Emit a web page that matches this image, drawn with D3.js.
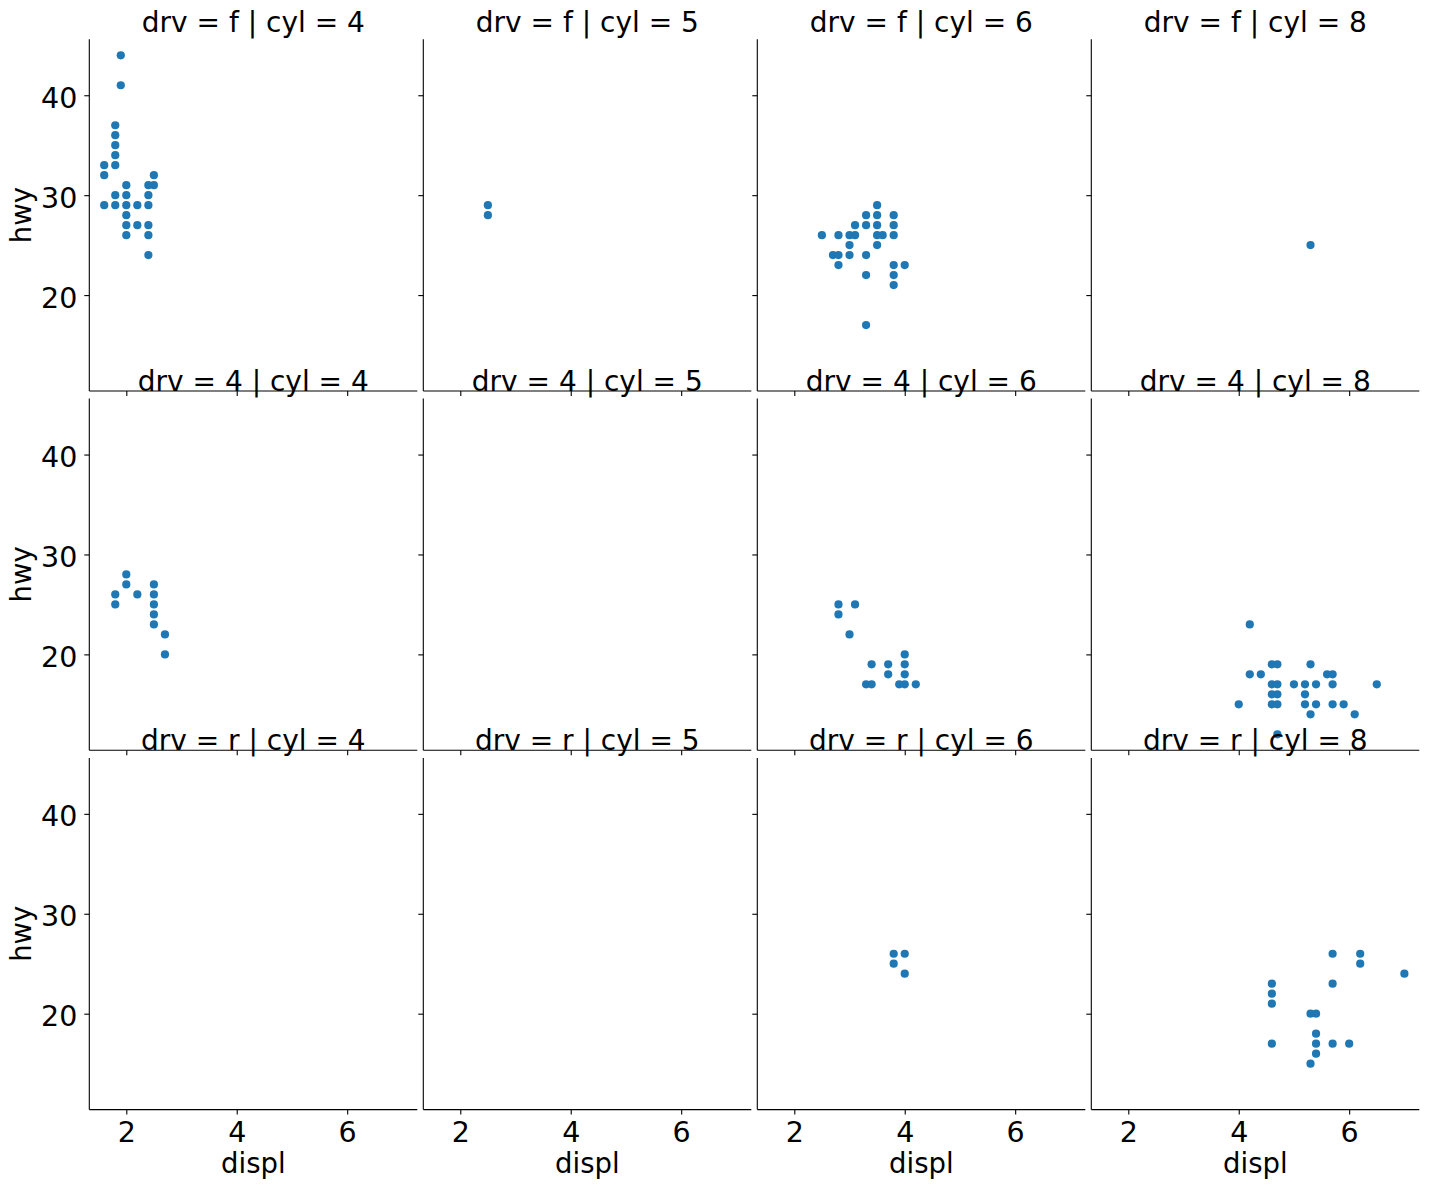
<!DOCTYPE html>
<html>
<head>
<meta charset="utf-8">
<script src="https://cdn.jsdelivr.net/npm/d3@7"></script>
<style>
  body { margin: 0; background: #fff; }
  text { font-family: "DejaVu Sans", sans-serif; fill: #000; }
</style>
</head>
<body>
<div id="chart"></div>
<script>
// Facet levels
const drvLevels = ["f", "4", "r"];
const cylLevels = [4, 5, 6, 8];

// [displ, hwy] per facet
const f4 = [[1.9,44],[1.9,41],[1.8,37],[1.8,36],[1.8,35],[1.8,34],[1.8,33],[1.6,33],[1.6,32],
  [2.5,32],[2.5,31],[2.4,31],[2.0,31],[1.8,30],[2.0,30],[2.4,30],[1.6,29],[1.8,29],[2.0,29],
  [2.2,29],[2.4,29],[2.0,28],[2.0,27],[2.2,27],[2.4,27],[2.0,26],[2.4,26],[2.4,24]];
const f5 = [[2.5,29],[2.5,28]];
const f6 = [[3.5,29],[3.3,28],[3.5,28],[3.8,28],[3.1,27],[3.3,27],[3.5,27],[3.8,27],[2.5,26],
  [2.8,26],[3.0,26],[3.1,26],[3.5,26],[3.6,26],[3.8,26],[3.0,25],[3.5,25],[2.7,24],[2.8,24],
  [3.0,24],[3.3,24],[2.8,23],[3.8,23],[4.0,23],[3.3,22],[3.8,22],[3.8,21],[3.3,17]];
const f8 = [[5.3,25]];
const w4 = [[2.0,28],[2.0,27],[1.8,26],[1.8,25],[2.2,26],[2.5,27],[2.5,26],[2.5,25],[2.5,24],
  [2.5,23],[2.7,22],[2.7,20]];
const w5 = [];
const w6 = [[2.8,25],[3.1,25],[2.8,24],[3.0,22],[4.0,20],[3.4,19],[3.7,19],[4.0,19],[3.7,18],
  [4.0,18],[3.3,17],[3.4,17],[3.9,17],[4.0,17],[4.2,17]];
const w8 = [[4.2,23],[4.6,19],[4.7,19],[5.3,19],[4.2,18],[4.4,18],[5.6,18],[5.7,18],[4.6,17],
  [4.7,17],[5.0,17],[5.2,17],[5.4,17],[5.7,17],[6.5,17],[4.6,16],[4.7,16],[5.2,16],[4.0,15],
  [4.6,15],[4.7,15],[5.2,15],[5.4,15],[5.7,15],[5.9,15],[5.3,14],[6.1,14],[4.7,12]];
const r4 = [];
const r5 = [];
const r6 = [[3.8,26],[4.0,26],[3.8,25],[4.0,24]];
const r8 = [[5.7,26],[6.2,26],[6.2,25],[7.0,24],[4.6,23],[5.7,23],[4.6,22],[4.6,21],[5.3,20],
  [5.4,20],[5.4,18],[4.6,17],[5.4,17],[5.7,17],[6.0,17],[5.4,16],[5.3,15]];

const facetData = [
  [f4, f5, f6, f8],
  [w4, w5, w6, w8],
  [r4, r5, r6, r8]
];

const xTicks = [2, 4, 6];
const yTicks = [20, 30, 40];

// Layout
const width = 1430, height = 1190;
const left0 = 89.3, colStride = 334, panelW = 328;
const top0 = 39.3, rowStride = 359.3, panelH = 351.7;
const tickLen = 5;
const dotColor = "#1f77b4";

const all = facetData.flat(2);
function padded(ext) {
  const m = (ext[1] - ext[0]) * 0.05;
  return [ext[0] - m, ext[1] + m];
}
const xDomain = padded(d3.extent(all, d => d[0]));
const yDomain = padded(d3.extent(all, d => d[1]));

const x = d3.scaleLinear().domain(xDomain).range([0, panelW]);
const y = d3.scaleLinear().domain(yDomain).range([panelH, 0]);

const svg = d3.select("#chart")
  .append("svg")
  .attr("width", width)
  .attr("height", height);

drvLevels.forEach((drv, ri) => {
  cylLevels.forEach((cyl, ci) => {
    const g = svg.append("g")
      .attr("transform", `translate(${left0 + ci * colStride},${top0 + ri * rowStride})`);

    // points
    g.selectAll("circle")
      .data(facetData[ri][ci])
      .join("circle")
      .attr("cx", d => x(d[0]))
      .attr("cy", d => y(d[1]))
      .attr("r", 4.1)
      .attr("fill", dotColor);

    // x axis
    const xAxis = d3.axisBottom(x)
      .tickValues(xTicks)
      .tickSize(tickLen)
      .tickPadding(8)
      .tickFormat(ri === drvLevels.length - 1 ? d3.format("d") : "");
    const gx = g.append("g")
      .attr("transform", `translate(0,${panelH})`)
      .call(xAxis);
    gx.select(".domain").attr("d", `M0,0H${panelW}`);

    // y axis
    const yAxis = d3.axisLeft(y)
      .tickValues(yTicks)
      .tickSize(tickLen)
      .tickPadding(7)
      .tickFormat(ci === 0 ? d3.format("d") : "");
    const gy = g.append("g").call(yAxis);
    gy.select(".domain").attr("d", `M0,0V${panelH}`);

    [gx, gy].forEach(a => {
      a.attr("font-family", null).attr("font-size", null);
      a.selectAll("path, line").attr("stroke", "#000").attr("stroke-width", 1.1);
      a.selectAll("text").style("font-size", "28.5px");
    });
    gy.selectAll("text").attr("dy", "0.42em");
    gx.selectAll("text").attr("dy", "0.67em");

    // title
    g.append("text")
      .attr("x", panelW / 2)
      .attr("y", -7.8)
      .attr("text-anchor", "middle")
      .style("font-size", "28px")
      .text(`drv = ${drv} | cyl = ${cyl}`);

    if (ci === 0) {
      g.append("text")
        .attr("transform", `translate(-58,${panelH / 2}) rotate(-90)`)
        .attr("text-anchor", "middle")
        .style("font-size", "27.5px")
        .text("hwy");
    }
    if (ri === drvLevels.length - 1) {
      g.append("text")
        .attr("x", panelW / 2)
        .attr("y", panelH + 63)
        .attr("text-anchor", "middle")
        .style("font-size", "27.5px")
        .text("displ");
    }
  });
});
</script>
</body>
</html>
